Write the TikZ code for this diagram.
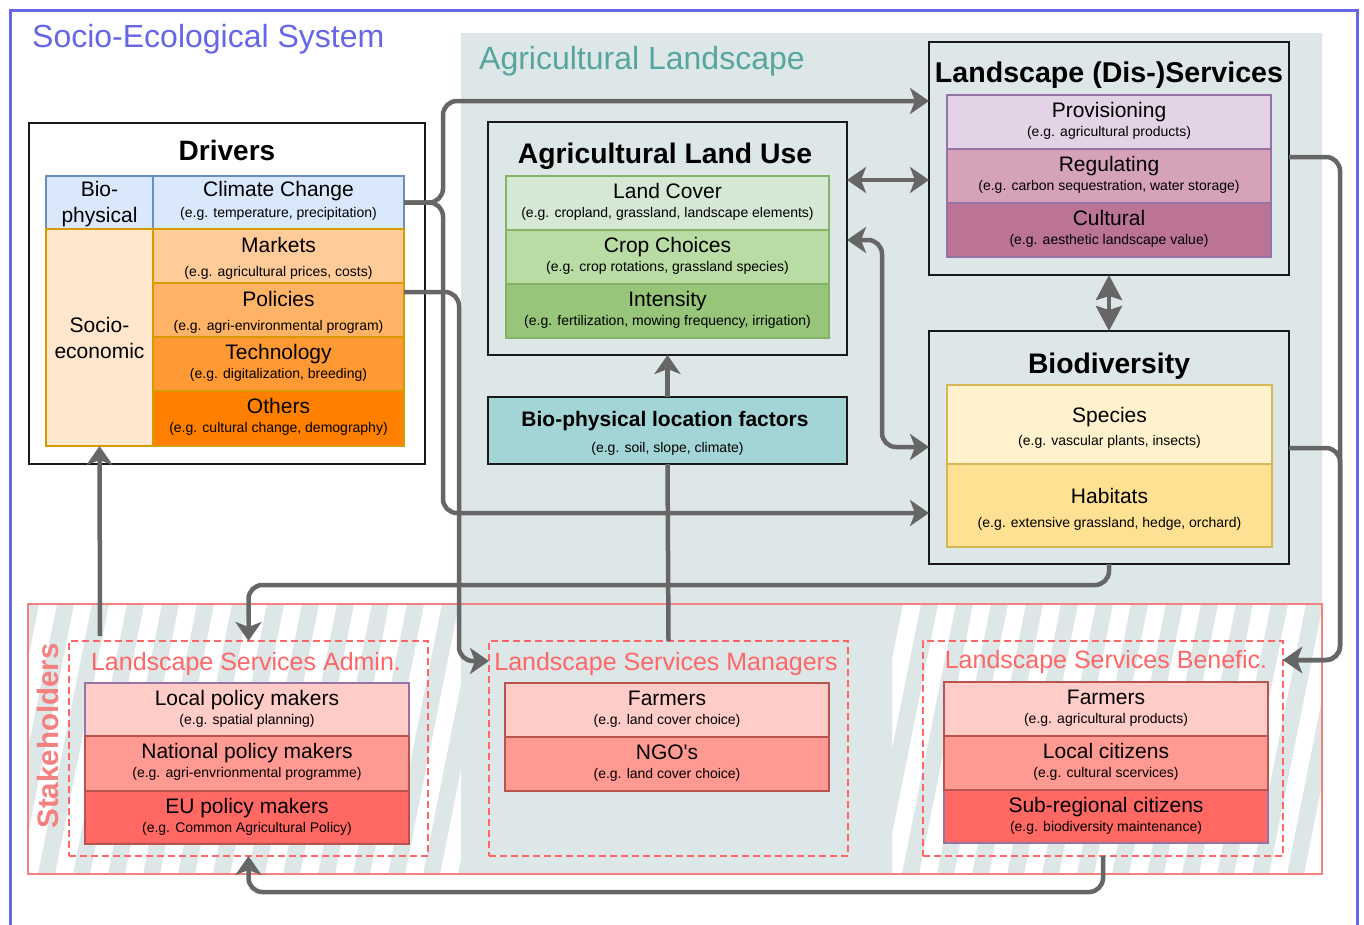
\documentclass[tikz,border=0pt]{standalone}
\usepackage{fontspec}
\setmainfont{Liberation Sans}
\usetikzlibrary{arrows.meta}
\definecolor{sesblue}{HTML}{6666E6}
\definecolor{landgray}{HTML}{DEE7E8}
\definecolor{landteal}{HTML}{56A59E}
\definecolor{arrowgray}{HTML}{666666}
\definecolor{stkred}{HTML}{F48080}
\definecolor{dashred}{HTML}{FF6666}
\definecolor{biofill}{HTML}{DAE8FC}
\definecolor{biodraw}{HTML}{6C8EBF}
\definecolor{socfill}{HTML}{FFE6CC}
\definecolor{socdraw}{HTML}{D79B00}
\definecolor{markfill}{HTML}{FFCC99}
\definecolor{polfill}{HTML}{FFB366}
\definecolor{techfill}{HTML}{FF9933}
\definecolor{othfill}{HTML}{FF8000}
\definecolor{lcfill}{HTML}{D5E8D4}
\definecolor{ccfill}{HTML}{B9DBA4}
\definecolor{intfill}{HTML}{97C67B}
\definecolor{aludraw}{HTML}{82B366}
\definecolor{provfill}{HTML}{E4D3E6}
\definecolor{regfill}{HTML}{D6A2BA}
\definecolor{cultfill}{HTML}{BB7496}
\definecolor{svcdraw}{HTML}{9673A6}
\definecolor{specfill}{HTML}{FFF2CC}
\definecolor{habfill}{HTML}{FFE194}
\definecolor{biodivdraw}{HTML}{D6B656}
\definecolor{locfill}{HTML}{A3D5D6}
\definecolor{stkone}{HTML}{FFCCC7}
\definecolor{stktwo}{HTML}{FF9A93}
\definecolor{stkthree}{HTML}{FF6863}
\definecolor{stkdraw}{HTML}{B85450}
\newcommand\fs[1]{\fontsize{#1}{#1}\selectfont}
\newcommand\tofs{22}
\newcommand\sofs{41}
\newcommand\mkcell[9]{%
  \node[cellbox, fill=#6, draw=#7, minimum width={(#4-#2)*1pt}, minimum height={(#5-#3)*1pt}] (#1) at ({(#2+#4)/2},{(#3+#5)/2}) {};
  \node[txt, font=\fs{21}] (#1-t) at ({(#2+#4)/2},{#3+\tofs}) {#8};
  \node[txt, font=\fs{14}] (#1-s) at ({(#2+#4)/2},{#3+\sofs}) {#9};
}
\begin{document}
\begin{tikzpicture}[x=1pt,y=-1pt,
  cellbox/.style={rectangle, inner sep=0pt, outer sep=0pt, line width=1.5pt},
  bigbox/.style={rectangle, draw=black!90, line width=2pt, inner sep=0pt, outer sep=0pt},
  dashbox/.style={rectangle, draw=dashred, line width=1.6pt, dash pattern=on 7pt off 4pt, inner sep=0pt, outer sep=0pt},
  conn/.style={draw=arrowgray, line width=4.5pt, rounded corners=14pt},
  arr/.style={conn, -{Stealth[length=19pt,width=26pt,inset=5pt]}},
  darr/.style={conn, {Stealth[length=19pt,width=26pt,inset=5pt]}-{Stealth[length=19pt,width=26pt,inset=5pt]}},
  sdarr/.style={conn, {Stealth[length=25pt,width=26pt,inset=4pt]}-{Stealth[length=25pt,width=26pt,inset=4pt]}},
  txt/.style={inner sep=0pt, anchor=base},
]
\useasboundingbox (0,0) rectangle (1364,924);
\clip (0,0) rectangle (1364,924);
\fill[white] (0,0) rectangle (1364,924);
% outer system frame
\draw[sesblue, line width=3pt] (10,10) rectangle (1357,960);
% agricultural landscape area
\fill[landgray] (461,33) -- (1322,33) -- (1322,604) -- (892,604) -- (892,874) -- (461,874) -- cycle;
% stripes
\begin{scope}
  \clip (28,604) rectangle (461,874);
  \foreach \k in {0,...,15} \fill[landgray] ({28+35*\k-60},874) -- ++(17,0) -- ++(54,-270) -- ++(-17,0) -- cycle;
\end{scope}
\begin{scope}
  \clip (892,604) rectangle (1322,874);
  \foreach \k in {0,...,15} \fill[landgray] ({892+35*\k-60},874) -- ++(17,0) -- ++(54,-270) -- ++(-17,0) -- cycle;
\end{scope}
\node[rectangle, draw=stkred, line width=2pt, minimum width=1294pt, minimum height=270pt, inner sep=0pt, outer sep=0pt] (stk) at (675,739) {};
\node[txt, rotate=90, font=\bfseries\fs{29.5}, text=stkred] (stk-t) at (58,736) {Stakeholders};
% titles
\node[txt, anchor=base west, font=\fs{32}, text=sesblue] (ses-t) at (32,47) {Socio-Ecological System};
\node[txt, anchor=base west, font=\fs{32}, text=landteal] (land-t) at (479,69) {Agricultural Landscape};

% Drivers
\node[bigbox, fill=white, minimum width=396pt, minimum height=341pt] (drv) at (227,293.5) {};
\node[txt, font=\bfseries\fs{28}] (drv-t) at (227,160) {Drivers};
\node[cellbox, fill=biofill, draw=biodraw, minimum width=107pt, minimum height=53pt] (bioc) at (99.5,202.5) {};
\node[txt, font=\fs{21}] (bioc-a) at (99.5,196) {Bio-};
\node[txt, font=\fs{21}] (bioc-b) at (99.5,222) {physical};
\renewcommand\tofs{20}
\mkcell{clim}{153}{176}{404}{229}{biofill}{biodraw}{Climate Change}{(e.g. temperature, precipitation)}
\node[cellbox, fill=socfill, draw=socdraw, minimum width=107pt, minimum height=217pt] (soc) at (99.5,337.5) {};
\node[txt, font=\fs{21}] (soc-a) at (99.5,332) {Socio-};
\node[txt, font=\fs{21}] (soc-b) at (99.5,358) {economic};
\renewcommand\tofs{23}\renewcommand\sofs{47}
\mkcell{mark}{153}{229}{404}{283}{markfill}{socdraw}{Markets}{(e.g. agricultural prices, costs)}
\mkcell{pol}{153}{283}{404}{337}{polfill}{socdraw}{Policies}{(e.g. agri-environmental program)}
\renewcommand\tofs{22}\renewcommand\sofs{41}
\mkcell{tech}{153}{337}{404}{391}{techfill}{socdraw}{Technology}{(e.g. digitalization, breeding)}
\mkcell{oth}{153}{391}{404}{446}{othfill}{socdraw}{Others}{(e.g. cultural change, demography)}

% Agricultural land use
\node[bigbox, minimum width=359pt, minimum height=233pt] (alu) at (667.5,238.5) {};
\node[txt, font=\bfseries\fs{28.3}] (alu-t) at (665,163) {Agricultural Land Use};
\mkcell{lc}{506}{176}{829}{230}{lcfill}{aludraw}{Land Cover}{(e.g. cropland, grassland, landscape elements)}
\mkcell{cc}{506}{230}{829}{284}{ccfill}{aludraw}{Crop Choices}{(e.g. crop rotations, grassland species)}
\mkcell{int}{506}{284}{829}{338}{intfill}{aludraw}{Intensity}{(e.g. fertilization, mowing frequency, irrigation)}

% Services
\node[bigbox, minimum width=360pt, minimum height=233pt] (svc) at (1109,158.5) {};
\node[txt, font=\bfseries\fs{28.6}] (svc-t) at (1109,82) {Landscape (Dis-)Services};
\mkcell{prov}{947}{95}{1271}{149}{provfill}{svcdraw}{Provisioning}{(e.g. agricultural products)}
\mkcell{reg}{947}{149}{1271}{203}{regfill}{svcdraw}{Regulating}{(e.g. carbon sequestration, water storage)}
\mkcell{cult}{947}{203}{1271}{257}{cultfill}{svcdraw}{Cultural}{(e.g. aesthetic landscape value)}

% Biodiversity
\node[bigbox, minimum width=360pt, minimum height=233pt] (bdv) at (1109,447.5) {};
\node[txt, font=\bfseries\fs{28.3}] (bdv-t) at (1109,373) {Biodiversity};
\renewcommand\tofs{37}\renewcommand\sofs{60}
\mkcell{spec}{947}{385}{1272}{464}{specfill}{biodivdraw}{Species}{(e.g. vascular plants, insects)}
\renewcommand\tofs{39}\renewcommand\sofs{63}
\mkcell{hab}{947}{464}{1272}{547}{habfill}{biodivdraw}{Habitats}{(e.g. extensive grassland, hedge, orchard)}
\renewcommand\tofs{22}\renewcommand\sofs{41}

% Bio-physical location factors
\node[bigbox, fill=locfill, minimum width=359pt, minimum height=67pt] (loc) at (667.5,430.5) {};
\node[txt, font=\bfseries\fs{21}] (loc-t) at (665,426) {Bio-physical location factors};
\node[txt, font=\fs{14}] (loc-s) at (667.5,452) {(e.g. soil, slope, climate)};

% Stakeholder groups
\node[dashbox, minimum width=359pt, minimum height=215pt] (admin) at (248.5,748.5) {};
\node[txt, font=\fs{25}, text=dashred] (admin-t) at (246,670) {Landscape Services Admin.};
\mkcell{lpm}{85}{683}{409}{736}{stkone}{svcdraw}{Local policy makers}{(e.g. spatial planning)}
\mkcell{npm}{85}{736}{409}{791}{stktwo}{stkdraw}{National policy makers}{(e.g. agri-envrionmental programme)}
\mkcell{eupm}{85}{791}{409}{844}{stkthree}{stkdraw}{EU policy makers}{(e.g. Common Agricultural Policy)}

\node[dashbox, minimum width=359pt, minimum height=215pt] (mgr) at (668.5,748.5) {};
\node[txt, font=\fs{25}, text=dashred] (mgr-t) at (666,670) {Landscape Services Managers};
\mkcell{fmone}{505}{683}{829}{737}{stkone}{stkdraw}{Farmers}{(e.g. land cover choice)}
\mkcell{ngo}{505}{737}{829}{791}{stktwo}{stkdraw}{NGO\textquotesingle s}{(e.g. land cover choice)}

\node[dashbox, minimum width=360pt, minimum height=215pt] (ben) at (1103,748.5) {};
\node[txt, font=\fs{25}, text=dashred] (ben-t) at (1106,668) {Landscape Services Benefic.};
\mkcell{fmtwo}{944}{682}{1268}{736}{stkone}{stkdraw}{Farmers}{(e.g. agricultural products)}
\mkcell{src}{944}{790}{1268}{843}{stkthree}{svcdraw}{Sub-regional citizens}{(e.g. biodiversity maintenance)}
\mkcell{lcit}{944}{736}{1268}{790}{stktwo}{stkdraw}{Local citizens}{(e.g. cultural scervices)}

% connectors
\draw[arr] (clim.east) -- (443,202.5) -- (443,101) -- (svc.west |- 0,101);
\draw[arr] (clim.east) -- (443,202.5) -- (443,513) -- (bdv.west |- 0,513);
\draw[arr] (pol.east |- 0,292) -- (459,292) -- (459,661) -- (mgr.west |- 0,661);
\draw[conn] (mgr.north) -- (loc.south);
\draw[arr] (loc.north) -- (alu.south);
\draw[darr] (alu.east |- 0,180) -- (svc.west |- 0,180);
\draw[darr] (alu.east |- 0,240) -- (882,240) -- (882,447) -- (bdv.west |- 0,447);
\draw[sdarr] (svc.south) -- (bdv.north);
\draw[arr] (svc.east |- 0,157) -- (1340,157) -- (1340,660) -- (ben.east |- 0,660);
\draw[arr] (bdv.east |- 0,448) -- (1340,448) -- (1340,660) -- (ben.east |- 0,660);
\draw[arr] (bdv.south) -- (1109,585) -- (admin.north |- 0,585) -- (admin.north);
\draw[arr] ([xshift=31pt,yshift=5pt]admin.north west) -- (soc.south);
\draw[arr] (ben.south) -- (1103,892) -- (admin.south |- 0,892) -- (admin.south);
\end{tikzpicture}
\end{document}
